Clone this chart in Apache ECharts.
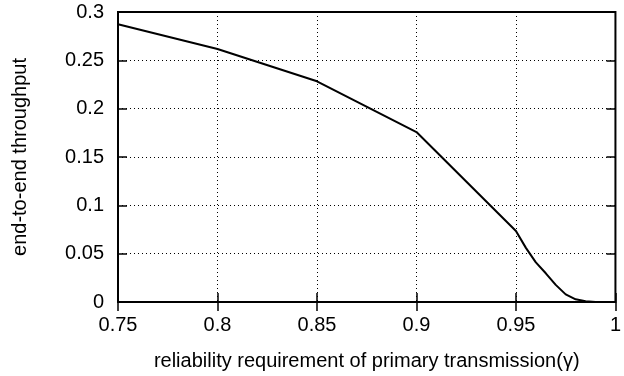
<!DOCTYPE html>
<html>
<head>
<meta charset="utf-8">
<script src="https://cdn.jsdelivr.net/npm/echarts@6/dist/echarts.min.js"></script>
<style>
  html, body { margin: 0; padding: 0; background: #fff; }
  #chart { width: 624px; height: 376px; }
</style>
</head>
<body>
<div id="chart"></div>
<script>
// Reliability requirement (gamma) and the end-to-end throughput achieved
const gamma = [0.75, 0.8, 0.85, 0.9, 0.95, 0.955, 0.96, 0.965, 0.97, 0.975, 0.98, 0.985, 0.99];
const throughput = [0.2874, 0.2618, 0.2283, 0.1758, 0.0734, 0.056, 0.041, 0.0297, 0.0177, 0.0079, 0.0028, 0.0008, 0.0];

const xTicks = [0.75, 0.8, 0.85, 0.9, 0.95, 1];
const yTicks = [0, 0.05, 0.1, 0.15, 0.2, 0.25, 0.3];

const FONT = 'Liberation Sans, Arial, Helvetica, sans-serif';
const fmt = v => String(+v.toFixed(2));

const tickStyle = { show: true, inside: true, length: 9, lineStyle: { color: '#000', width: 1.5 } };
const gridDots = { show: true, lineStyle: { color: '#000', width: 1, type: [1, 3] } };

const chart = echarts.init(document.getElementById('chart'), null, { renderer: 'canvas' });
chart.setOption({
  animation: false,
  backgroundColor: '#fff',
  grid: {
    left: 118, right: 6, top: 12, bottom: 71,
    show: true, borderColor: '#000', borderWidth: 2, backgroundColor: 'transparent'
  },
  xAxis: [{
    type: 'value', min: xTicks[0], max: xTicks[xTicks.length - 1], interval: 0.05,
    position: 'bottom',
    axisLine: { show: false },
    axisTick: tickStyle,
    splitLine: gridDots,
    axisLabel: { color: '#000', fontFamily: FONT, fontSize: 20, margin: 13, formatter: fmt,
                 showMinLabel: true, showMaxLabel: true },
    name: 'reliability requirement of primary transmission(\u03b3)',
    nameLocation: 'middle', nameGap: 49,
    nameTextStyle: { color: '#000', fontFamily: FONT, fontSize: 20 }
  }, {
    type: 'value', min: xTicks[0], max: xTicks[xTicks.length - 1], interval: 0.05,
    position: 'top',
    axisLine: { show: false },
    axisTick: tickStyle,
    splitLine: { show: false },
    axisLabel: { show: false }
  }],
  yAxis: [{
    type: 'value', min: yTicks[0], max: yTicks[yTicks.length - 1], interval: 0.05,
    position: 'left',
    axisLine: { show: false },
    axisTick: tickStyle,
    splitLine: gridDots,
    axisLabel: { color: '#000', fontFamily: FONT, fontSize: 20, margin: 14, formatter: fmt },
    name: 'end-to-end throughput',
    nameLocation: 'middle', nameGap: 88, nameRotate: 90,
    nameTextStyle: { color: '#000', fontFamily: FONT, fontSize: 20 }
  }, {
    type: 'value', min: yTicks[0], max: yTicks[yTicks.length - 1], interval: 0.05,
    position: 'right',
    axisLine: { show: false },
    axisTick: tickStyle,
    splitLine: { show: false },
    axisLabel: { show: false }
  }],
  series: [{
    type: 'line',
    xAxisIndex: 0, yAxisIndex: 0,
    data: gamma.map((g, i) => [g, throughput[i]]),
    showSymbol: false,
    smooth: false,
    lineStyle: { color: '#000', width: 2 },
    z: 5
  }]
});
</script>
</body>
</html>
